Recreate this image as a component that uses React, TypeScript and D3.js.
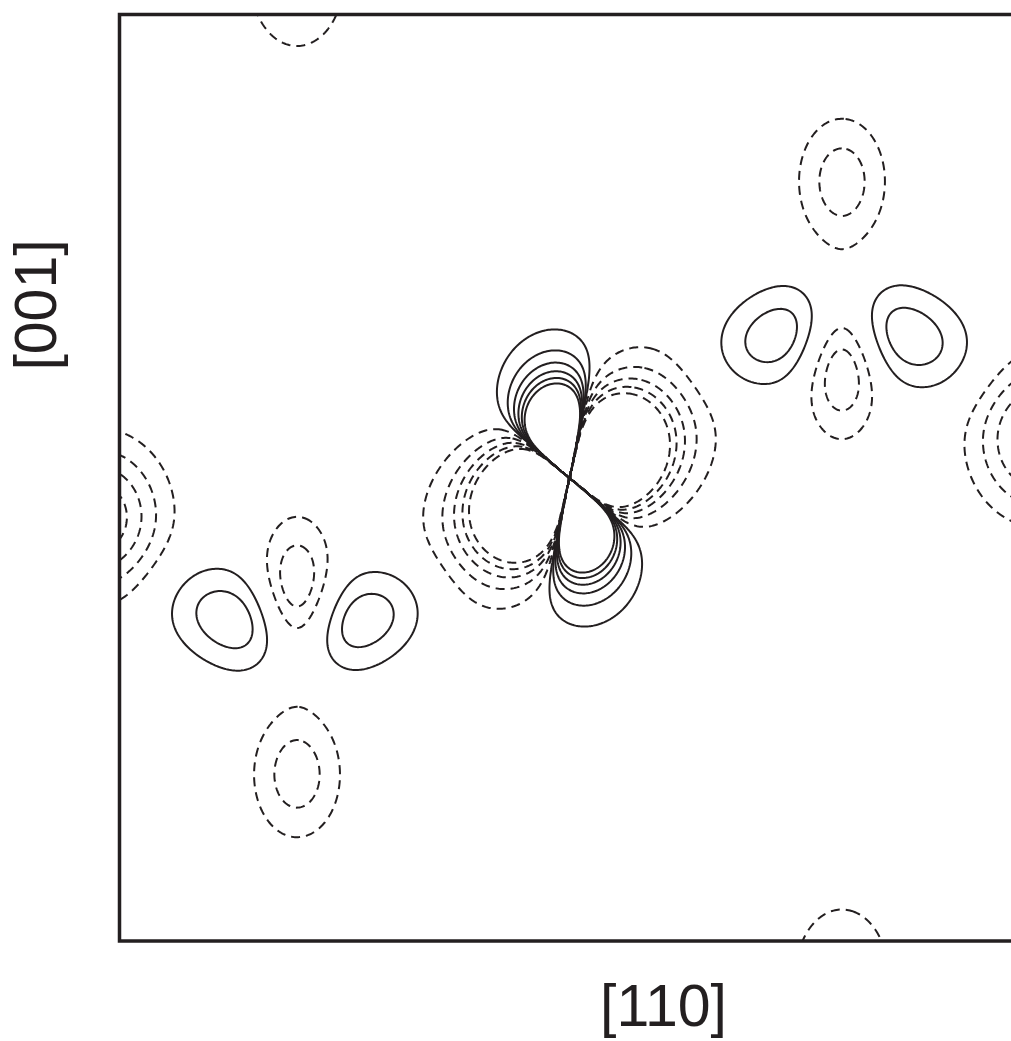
import React, { useMemo } from "react";
import * as d3 from "d3";

// map extent along [110] and [001]
const xExtent = [0, 9.0];
const yExtent = [0, 9.265];

// central lobe pair with its negative ring
const centerPos = [4.5, 4.63];
const centerAxisDeg = 109;
const centerNode = 0.7347; // cos^2 of the nodal angle
const lobePow = 0.6;
const posAmp = 15.5;
const posDecay = 0.243;
const posSkew = 0.27;
const posSkewDeg = 85;
const negAmp = 14.8;
const negDecay = 0.287;
const negSkew = 0.2;
const negSkewDeg = 50;

// side blobs, one entry per blob
const featX = [1.14, 2.41, 6.59, 7.86, 7.225, 7.225, 1.775, 1.775, 1.775, 7.225, -0.21, 9.21];
const featY = [3.21, 3.21, 6.05, 6.05, 7.6, 5.86, 3.4, 1.66, 9.6, -0.335, 4.23, 5.03];
const featAmp = [0.28, 0.28, 0.28, 0.28, -0.26, -0.37, -0.37, -0.26, -0.25, -0.25, -0.5, -0.5];
const featSa = [0.5, 0.5, 0.5, 0.5, 0.31, 0.26, 0.26, 0.31, 0.34, 0.34, 0.43, 0.43];
const featSb = [0.34, 0.34, 0.34, 0.34, 0.45, 0.52, 0.52, 0.45, 0.48, 0.48, 0.5, 0.5];
const featRot = [-25, 25, 25, -25, 0, 0, 0, 0, 0, 0, 0, 0];

const posLevels = [0.1, 0.2, 0.3, 0.4, 0.5, 0.6];
const negLevels = [0.1, 0.2, 0.3, 0.4, 0.5];

const xLabel = "[110]";
const yLabel = "[001]";

const rad = Math.PI / 180;

function field(x: number, y: number) {
  let v = 0;
  const dx = x - centerPos[0];
  const dy = y - centerPos[1];
  const r = Math.hypot(dx, dy);
  if (r > 1e-9) {
    const psi = Math.atan2(dy, dx) / rad;
    const c = Math.cos((psi - centerAxisDeg) * rad);
    const t = c * c;
    if (t >= centerNode) {
      const g = Math.pow((t - centerNode) / (1 - centerNode), lobePow);
      const a = posDecay * (1 + posSkew * Math.cos(2 * (psi - posSkewDeg) * rad));
      v += posAmp * Math.exp(-r / a) * g;
    } else {
      const g = Math.pow((centerNode - t) / centerNode, lobePow);
      const a = negDecay * (1 + negSkew * Math.cos(2 * (psi - negSkewDeg) * rad));
      v -= negAmp * Math.exp(-r / a) * g;
    }
  }
  for (let i = 0; i < featX.length; i++) {
    const ex = x - featX[i];
    const ey = y - featY[i];
    const th = featRot[i] * rad;
    const u = ex * Math.cos(th) + ey * Math.sin(th);
    const w = -ex * Math.sin(th) + ey * Math.cos(th);
    v += featAmp[i] * Math.exp(-(u * u) / (2 * featSa[i] ** 2) - (w * w) / (2 * featSb[i] ** 2));
  }
  return v;
}

export default function App() {
  const width = 1011;
  const height = 1041;
  const margin = { left: 119.5, top: 14.5, right: 1019.5, bottom: 941 };

  const x = d3.scaleLinear().domain(xExtent).range([margin.left, margin.right]);
  const y = d3.scaleLinear().domain(yExtent).range([margin.bottom, margin.top]);

  const { pos, neg } = useMemo(() => {
    const step = 0.015;
    const x0 = xExtent[0] - 0.3;
    const y0 = yExtent[0] - 0.3;
    const nx = Math.ceil((xExtent[1] + 0.3 - x0) / step);
    const ny = Math.ceil((yExtent[1] + 0.3 - y0) / step);
    const vals: number[] = new Array(nx * ny);
    for (let j = 0; j < ny; j++) {
      for (let i = 0; i < nx; i++) {
        vals[j * nx + i] = field(x0 + i * step, y0 + j * step);
      }
    }
    const negVals = vals.map((d) => -d);
    const line = d3
      .line<number[]>()
      .x((p) => x(x0 + (p[0] - 0.5) * step))
      .y((p) => y(y0 + (p[1] - 0.5) * step));
    const toPath = (geo: any) =>
      geo.coordinates
        .map((poly: number[][][]) => poly.map((ring) => line(ring) + "Z").join(""))
        .join("");
    const c = d3.contours().size([nx, ny]);
    return {
      pos: c.thresholds(posLevels)(vals).map(toPath),
      neg: c.thresholds(negLevels)(negVals).map(toPath),
    };
  }, []);

  return (
    <svg
      width={width}
      height={height}
      style={{ position: "absolute", left: 0, top: 0, background: "#fff" }}
    >
      <defs>
        <clipPath id="plot-clip">
          <rect
            x={margin.left}
            y={margin.top}
            width={margin.right - margin.left}
            height={margin.bottom - margin.top}
          />
        </clipPath>
      </defs>
      <g clipPath="url(#plot-clip)" fill="none" stroke="#231f20">
        {neg.map((d, i) => (
          <path key={"n" + i} d={d} strokeWidth={2} strokeDasharray="9 6" />
        ))}
        {pos.map((d, i) => (
          <path key={"p" + i} d={d} strokeWidth={2} />
        ))}
      </g>
      <rect
        x={margin.left}
        y={margin.top}
        width={margin.right - margin.left}
        height={margin.bottom - margin.top}
        fill="none"
        stroke="#231f20"
        strokeWidth={3.5}
      />
      <text
        x={663.5}
        y={1026}
        textAnchor="middle"
        fontFamily="Liberation Sans, Arial, sans-serif"
        fontSize={59}
        fill="#231f20"
      >
        {xLabel}
      </text>
      <text
        transform="translate(56,305) rotate(-90)"
        textAnchor="middle"
        fontFamily="Liberation Sans, Arial, sans-serif"
        fontSize={59}
        fill="#231f20"
      >
        {yLabel}
      </text>
    </svg>
  );
}
